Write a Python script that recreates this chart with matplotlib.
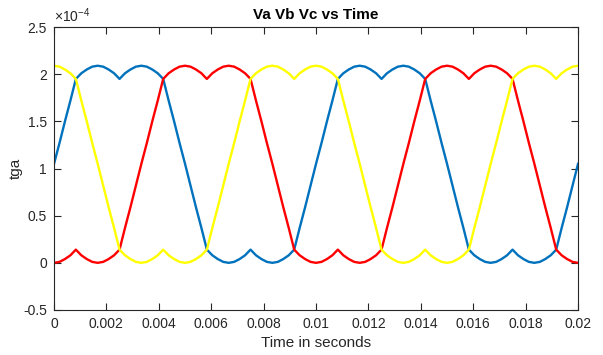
import numpy as np
import matplotlib
matplotlib.use("Agg")
import matplotlib.pyplot as plt
from matplotlib.ticker import FuncFormatter

plt.rcParams['font.family'] = ['Liberation Sans', 'DejaVu Sans']
plt.rcParams['mathtext.fontset'] = 'custom'
plt.rcParams['mathtext.rm'] = 'Liberation Sans'

# time axis: 0 .. 0.02 s, 97 samples
t_start, t_end, n_samples = 0.0, 0.02, 97

# values in units of 1e-4
va = [1.05, 1.27, 1.50, 1.72, 1.95, 2.01, 2.05, 2.08, 2.09, 2.08, 2.05, 2.01, 1.95, 2.01, 2.05, 2.08,
      2.09, 2.08, 2.05, 2.01, 1.95, 1.72, 1.50, 1.27, 1.05, 0.82, 0.59, 0.37, 0.14, 0.08, 0.04, 0.01,
      0.00, 0.01, 0.04, 0.08, 0.14, 0.08, 0.04, 0.01, 0.00, 0.01, 0.04, 0.08, 0.14, 0.37, 0.59, 0.82,
      1.05, 1.27, 1.50, 1.72, 1.95, 2.01, 2.05, 2.08, 2.09, 2.08, 2.05, 2.01, 1.95, 2.01, 2.05, 2.08,
      2.09, 2.08, 2.05, 2.01, 1.95, 1.72, 1.50, 1.27, 1.05, 0.82, 0.59, 0.37, 0.14, 0.08, 0.04, 0.01,
      0.00, 0.01, 0.04, 0.08, 0.14, 0.08, 0.04, 0.01, 0.00, 0.01, 0.04, 0.08, 0.14, 0.37, 0.59, 0.82,
      1.05]
vb = [0.00, 0.01, 0.04, 0.08, 0.14, 0.08, 0.04, 0.01, 0.00, 0.01, 0.04, 0.08, 0.14, 0.37, 0.59, 0.82,
      1.05, 1.27, 1.50, 1.72, 1.95, 2.01, 2.05, 2.08, 2.09, 2.08, 2.05, 2.01, 1.95, 2.01, 2.05, 2.08,
      2.09, 2.08, 2.05, 2.01, 1.95, 1.72, 1.50, 1.27, 1.05, 0.82, 0.59, 0.37, 0.14, 0.08, 0.04, 0.01,
      0.00, 0.01, 0.04, 0.08, 0.14, 0.08, 0.04, 0.01, 0.00, 0.01, 0.04, 0.08, 0.14, 0.37, 0.59, 0.82,
      1.05, 1.27, 1.50, 1.72, 1.95, 2.01, 2.05, 2.08, 2.09, 2.08, 2.05, 2.01, 1.95, 2.01, 2.05, 2.08,
      2.09, 2.08, 2.05, 2.01, 1.95, 1.72, 1.50, 1.27, 1.05, 0.82, 0.59, 0.37, 0.14, 0.08, 0.04, 0.01,
      0.00]
vc = [2.09, 2.08, 2.05, 2.01, 1.95, 1.72, 1.50, 1.27, 1.05, 0.82, 0.59, 0.37, 0.14, 0.08, 0.04, 0.01,
      0.00, 0.01, 0.04, 0.08, 0.14, 0.08, 0.04, 0.01, 0.00, 0.01, 0.04, 0.08, 0.14, 0.37, 0.59, 0.82,
      1.05, 1.27, 1.50, 1.72, 1.95, 2.01, 2.05, 2.08, 2.09, 2.08, 2.05, 2.01, 1.95, 2.01, 2.05, 2.08,
      2.09, 2.08, 2.05, 2.01, 1.95, 1.72, 1.50, 1.27, 1.05, 0.82, 0.59, 0.37, 0.14, 0.08, 0.04, 0.01,
      0.00, 0.01, 0.04, 0.08, 0.14, 0.08, 0.04, 0.01, 0.00, 0.01, 0.04, 0.08, 0.14, 0.37, 0.59, 0.82,
      1.05, 1.27, 1.50, 1.72, 1.95, 2.01, 2.05, 2.08, 2.09, 2.08, 2.05, 2.01, 1.95, 2.01, 2.05, 2.08,
      2.09]

xticks = [0, 0.002, 0.004, 0.006, 0.008, 0.01, 0.012, 0.014, 0.016, 0.018, 0.02]
yticks = [-0.5, 0, 0.5, 1, 1.5, 2, 2.5]

t = np.linspace(t_start, t_end, n_samples)

fig = plt.figure(figsize=(6.03, 3.55), dpi=100)
ax = fig.add_axes([0.0896, 0.1268, 0.869, 0.797])

ax.plot(t, va, color='#0072BD', lw=1.7)
ax.plot(t, vb, color='#FF0000', lw=1.7)
ax.plot(t, vc, color='#FFFF00', lw=1.7)

ax.set_xlim(0, 0.02)
ax.set_ylim(-0.5, 2.5)
ax.set_xticks(xticks)
ax.set_yticks(yticks)
ax.xaxis.set_major_formatter(FuncFormatter(lambda v, p: '%g' % v))
ax.yaxis.set_major_formatter(FuncFormatter(lambda v, p: '%g' % v))

col = '#262626'
for s in ax.spines.values():
    s.set_color(col)
    s.set_linewidth(0.8)
ax.tick_params(direction='in', length=5, width=0.8, colors=col, labelsize=10,
               top=True, right=True, pad=5)

ax.set_title('Va Vb Vc vs Time', fontsize=11, fontweight='bold', color='black', pad=6)
ax.set_xlabel('Time in seconds', fontsize=11, color=col, labelpad=4)
ax.set_ylabel('tga', fontsize=11, color=col, labelpad=0)
ax.text(0.0, 1.008, r'$\times 10^{-4}$', transform=ax.transAxes, fontsize=10,
        color=col, ha='left', va='bottom')

fig.savefig('out.png', dpi=100)
